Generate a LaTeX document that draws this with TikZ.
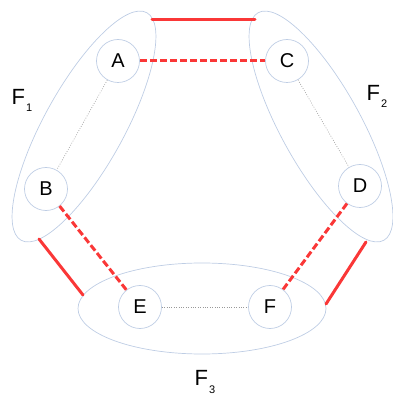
\documentclass[tikz,border=0pt]{standalone}
\usepackage{fontspec}
\setmainfont{Liberation Sans}
\definecolor{ringc}{RGB}{190,205,228}
\definecolor{redc}{RGB}{250,55,55}
\tikzset{
  vtx/.style={circle, draw=ringc, line width=0.7pt, minimum size=43pt, inner sep=0pt, font=\fontsize{20}{24}\selectfont},
  grp/.style={draw=ringc, line width=0.7pt},
  solidred/.style={draw=redc, line width=3pt, line cap=round},
  dashred/.style={draw=redc, line width=3pt, dash pattern=on 7pt off 3pt},
  weak/.style={draw=gray!80, line width=0.6pt, dash pattern=on 0.8pt off 1.6pt},
  flabel/.style={anchor=base west, inner sep=0pt, font=\fontsize{22}{26}\selectfont}
}
\newcommand{\fsub}[1]{F\hspace{1pt}\raisebox{-7pt}{\fontsize{11}{13}\selectfont #1}}
\begin{document}
\begin{tikzpicture}[x=1pt,y=1pt]
\useasboundingbox (0,0) rectangle (393,397);
% group ellipses
\draw[grp, rotate around={61.1:(84,270.5)}] (84,270.5) ellipse (130 and 40);
\draw[grp, rotate around={118.9:(321,270.5)}] (321,270.5) ellipse (130 and 40);
\draw[grp] (202,88.5) ellipse (124 and 45.5);
% vertices
\node[vtx] (A) at (118,336) {A};
\node[vtx] (C) at (287,336) {C};
\node[vtx] (B) at (46,208) {B};
\node[vtx] (D) at (360,211) {D};
\node[vtx] (E) at (140,90) {E};
\node[vtx] (F) at (270,90) {F};
% labels
\node[flabel] (l1) at (11.5,292) {\fsub{1}};
\node[flabel] (l2) at (366.5,296) {\fsub{2}};
\node[flabel] (l3) at (194.5,11) {\fsub{3}};
% weak edges
\draw[weak] (A) -- (B);
\draw[weak] (C) -- (D);
\draw[weak] (E) -- (F);
% dashed red
\draw[dashred] (A) -- (C);
\draw[dashred] (B) -- (E);
\draw[dashred] (D) -- (F);
% solid red between groups
\coordinate (t1) at (152,377);
\coordinate (t2) at (255,377);
\coordinate (s1) at (39,158);
\coordinate (s2) at (83,102);
\coordinate (r1) at (366,155);
\coordinate (r2) at (326,93);
\draw[solidred] (t1) -- (t2);
\draw[solidred] (s1) -- (s2);
\draw[solidred] (r1) -- (r2);
\end{tikzpicture}
\end{document}
